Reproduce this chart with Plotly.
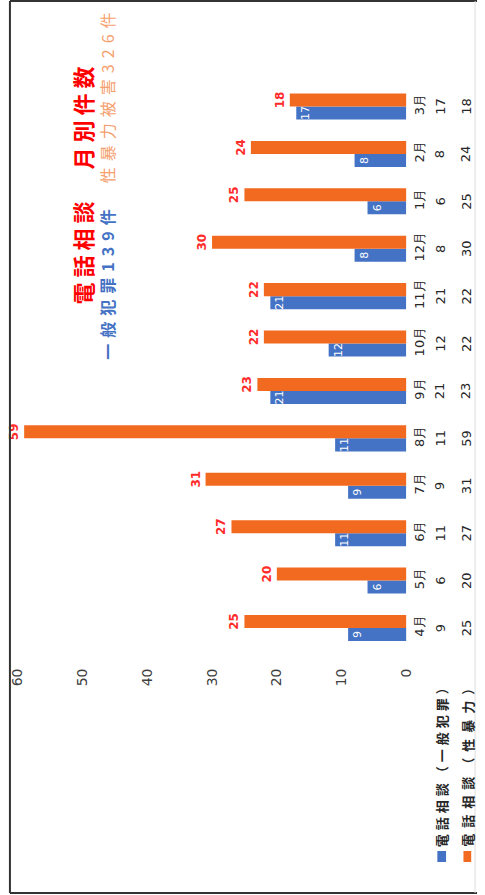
import plotly.graph_objects as go

# ---- data ----
months = ["4月", "5月", "6月", "7月", "8月", "9月", "10月", "11月", "12月", "1月", "2月", "3月"]
general = [9, 6, 11, 9, 11, 21, 12, 21, 8, 6, 8, 17]
sexual = [25, 20, 27, 31, 59, 23, 22, 22, 30, 25, 24, 18]
series_names = ["電話相談（一般犯罪）", "電話相談（性暴力）"]
title_main = "電話相談　月別件数"
sub_general = "一般犯罪139件"
sub_sexual = "性暴力被害326件"
x_ticks = [0, 10, 20, 30, 40, 50, 60]

W, H = 485, 895
BLUE = "#4472C4"
ORANGE = "#F26A1F"
JP = "Noto Sans CJK JP"
NUM = "DejaVu Sans"


def px(x):
    return x / W


def py(y):
    return 1 - y / H


def ls(text, sp):
    return f'<span style="letter-spacing:{sp}px">{text}</span>'


fig = go.Figure()
fig.add_trace(go.Bar(
    y=months, x=general, orientation="h", name=series_names[0],
    marker=dict(color=BLUE, line=dict(width=0)),
    text=general, textposition="inside", insidetextanchor="end",
    textangle=-90, constraintext="none",
    textfont=dict(color="white", size=11, family=NUM),
))
fig.add_trace(go.Bar(
    y=months, x=sexual, orientation="h", name=series_names[1],
    marker=dict(color=ORANGE, line=dict(width=0)),
    text=sexual, textposition="outside", textangle=-90, constraintext="none",
    textfont=dict(color="#FF2B2B", size=12, family=NUM, weight="bold"),
    cliponaxis=False,
))

annotations = []
# title and subtitles
annotations.append(dict(
    xref="paper", yref="paper", x=px(77), y=py(183), xanchor="center", yanchor="middle",
    textangle=-90, text=ls(title_main, 5), showarrow=False,
    font=dict(family=JP, size=22, color="#FF0000", weight="bold"),
))
annotations.append(dict(
    xref="paper", yref="paper", x=px(102), y=py(362), xanchor="center", yanchor="bottom",
    textangle=-90, text=ls(sub_general, 6), showarrow=False,
    font=dict(family=JP, size=16, color=BLUE, weight="bold"),
))
annotations.append(dict(
    xref="paper", yref="paper", x=px(102), y=py(185), xanchor="center", yanchor="bottom",
    textangle=-90, text=ls(sub_sexual, 6), showarrow=False,
    font=dict(family=JP, size=16, color="#F5A06E"),
))
# data table
for i in range(len(months)):
    annotations.append(dict(
        xref="paper", yref="y", x=px(447), y=i, xanchor="center", yanchor="middle",
        textangle=-90, showarrow=False,
        text=str(general[i]), font=dict(family=NUM, size=13, color="#262626"),
    ))
    annotations.append(dict(
        xref="paper", yref="y", x=px(474), y=i, xanchor="center", yanchor="middle",
        textangle=-90, showarrow=False,
        text=str(sexual[i]), font=dict(family=NUM, size=13, color="#262626"),
    ))
annotations.append(dict(
    xref="paper", yref="paper", x=px(448), y=py(849), xanchor="center", yanchor="bottom",
    textangle=-90, text=ls(series_names[0], 4), showarrow=False,
    font=dict(family=JP, size=13, color="#262626", weight="bold"),
))
annotations.append(dict(
    xref="paper", yref="paper", x=px(475), y=py(849), xanchor="center", yanchor="bottom",
    textangle=-90, text=ls(series_names[1], 6), showarrow=False,
    font=dict(family=JP, size=13, color="#262626", weight="bold"),
))

shapes = [
    dict(type="rect", xref="paper", yref="paper", x0=px(444), x1=px(453), y0=py(862), y1=py(851),
         fillcolor=BLUE, line=dict(width=0)),
    dict(type="rect", xref="paper", yref="paper", x0=px(471), x1=px(479), y0=py(862), y1=py(851),
         fillcolor=ORANGE, line=dict(width=0)),
    # frame
    dict(type="line", xref="paper", yref="paper", x0=px(2), x1=px(2), y0=py(1), y1=py(893),
         line=dict(color="#333333", width=2)),
    dict(type="line", xref="paper", yref="paper", x0=px(2), x1=px(485), y0=py(1), y1=py(1),
         line=dict(color="#333333", width=2)),
    dict(type="line", xref="paper", yref="paper", x0=px(2), x1=px(485), y0=py(893), y1=py(893),
         line=dict(color="#333333", width=2)),
    dict(type="line", xref="paper", yref="paper", x0=px(483), x1=px(483), y0=py(1), y1=py(893),
         line=dict(color="#DDDDDD", width=1)),
]

fig.update_layout(
    width=W, height=H,
    margin=dict(l=0, r=0, t=0, b=0),
    paper_bgcolor="white", plot_bgcolor="white",
    barmode="group", bargap=0.45, bargroupgap=0,
    showlegend=False,
    annotations=annotations, shapes=shapes,
    xaxis=dict(
        domain=[px(10), px(412)], range=[60, 0], tickvals=x_ticks,
        tickangle=-90, showgrid=False, zeroline=False, showline=False,
        ticks="", ticklabelstandoff=13,
        tickfont=dict(family=NUM, size=14, color="#404040"),
    ),
    yaxis=dict(
        domain=[py(651.7), py(82.8)], type="category",
        categoryorder="array", categoryarray=months,
        range=[-0.5, len(months) - 0.5],
        side="right", tickangle=-90, showgrid=False, zeroline=False, showline=False,
        ticks="", ticklabelstandoff=4,
        tickfont=dict(family=NUM, size=13, color="#262626"),
    ),
)

fig.write_html(
    "out.html",
    config={"displayModeBar": False},
    post_script="document.body.style.margin='0px';document.body.style.overflow='hidden';",
)
